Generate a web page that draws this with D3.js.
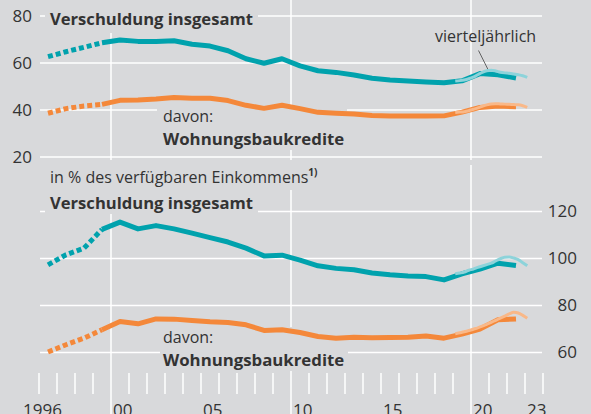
<!DOCTYPE html>
<html>
<head>
<meta charset="utf-8">
<script src="https://cdn.jsdelivr.net/npm/d3@7"></script>
<style>
  body { margin: 0; background: #d8d9db; }
  svg text { font-family: "Open Sans", "DejaVu Sans", sans-serif; fill: #333; }
</style>
</head>
<body>
<script>
// annual values, plotted at mid-year
var years = d3.range(1996, 2023);
var gdpTotal = [62.7, 64.8, 66.7, 68.6, 69.8, 69.2, 69.2, 69.5, 68.0, 67.2, 65.2, 61.8, 59.9, 61.8, 58.8,
                56.7, 56.0, 54.9, 53.5, 52.8, 52.3, 51.9, 51.6, 52.4, 55.5, 55.0, 53.6];
var gdpHousing = [38.6, 40.6, 41.7, 42.4, 44.1, 44.3, 44.7, 45.3, 45.0, 45.0, 44.0, 42.0, 40.7, 42.0, 40.6,
                  39.0, 38.6, 38.3, 37.7, 37.4, 37.4, 37.4, 37.5, 39.1, 41.1, 41.7, 41.4];
var incTotal = [97.3, 101.6, 104.4, 112.4, 115.5, 112.6, 114.0, 112.6, 110.8, 108.9, 107.0, 104.4, 101.1, 101.4, 99.3,
                96.9, 95.8, 95.2, 93.8, 93.1, 92.6, 92.3, 90.9, 93.5, 95.5, 98.0, 97.0];
var incHousing = [60.2, 63.3, 66.1, 69.7, 73.2, 72.2, 74.3, 74.2, 73.6, 73.1, 72.8, 71.8, 69.4, 69.7, 68.5,
                  66.8, 66.1, 66.5, 66.3, 66.4, 66.5, 67.0, 66.1, 67.8, 70.0, 73.9, 74.3];

// quarterly values 2019 Q1 - 2023 Q1
var quarters = ['2019Q1','2019Q2','2019Q3','2019Q4','2020Q1','2020Q2','2020Q3','2020Q4',
                '2021Q1','2021Q2','2021Q3','2021Q4','2022Q1','2022Q2','2022Q3','2022Q4','2023Q1'];
var gdpTotalQ = [52.3, 52.5, 52.8, 53.3, 54.0, 55.0, 56.0, 56.7, 56.9, 56.6, 56.1, 55.8, 55.6, 55.3, 55.0, 54.6, 53.9];
var gdpHousingQ = [38.9, 39.1, 39.3, 39.7, 40.3, 40.9, 41.6, 42.2, 42.6, 42.7, 42.6, 42.5, 42.4, 42.3, 42.2, 41.8, 41.1];
var incTotalQ = [93.5, 93.8, 94.2, 95.0, 95.5, 96.2, 96.8, 97.4, 98.0, 99.0, 99.9, 100.5, 100.6, 100.2, 99.5, 98.2, 96.9];
var incHousingQ = [68.0, 68.4, 68.8, 69.3, 69.9, 70.5, 71.2, 72.0, 72.8, 73.7, 74.6, 75.5, 76.4, 77.1, 76.8, 75.8, 74.6];

var topTicks = [20, 40, 60, 80];
var bottomTicks = [60, 80, 100, 120];
var yearLabels = [1996, 2000, 2005, 2010, 2015, 2020, 2023];

var W = 591, H = 414;
var bg = '#d8d9db';
var teal = '#00a2ad', tealLight = '#8dd3da';
var orange = '#f4883a', orangeLight = '#f9b888';

var svg = d3.select('body').append('svg')
  .attr('width', W)
  .attr('height', H);

svg.append('rect').attr('width', W).attr('height', H).attr('fill', bg);

var x = d3.scaleLinear().domain([1996, 2024]).range([39, 543]);
var yTop = d3.scaleLinear().domain([20, 80]).range([157, 16]);
var yBot = d3.scaleLinear().domain([60, 120]).range([352.5, 211.5]);

function qx(q) {
  return +q.slice(0, 4) + (+q.slice(5) - 0.5) / 4;
}

// horizontal grid
svg.selectAll('.gt').data(topTicks).enter().append('line')
  .attr('x1', 40).attr('x2', 542)
  .attr('y1', function(d){ return yTop(d); })
  .attr('y2', function(d){ return yTop(d); })
  .attr('stroke', '#fff').attr('stroke-width', 1.5);
svg.selectAll('.gb').data(bottomTicks).enter().append('line')
  .attr('x1', 40).attr('x2', 542)
  .attr('y1', function(d){ return yBot(d); })
  .attr('y2', function(d){ return yBot(d); })
  .attr('stroke', '#fff').attr('stroke-width', 1.5);

// vertical grid at decades
[2000, 2010, 2020].forEach(function(yr){
  svg.append('line').attr('x1', x(yr)).attr('x2', x(yr)).attr('y1', 0).attr('y2', 160)
    .attr('stroke', '#fff').attr('stroke-width', 1.5);
  svg.append('line').attr('x1', x(yr)).attr('x2', x(yr)).attr('y1', 165).attr('y2', H)
    .attr('stroke', '#fff').attr('stroke-width', 1.5);
});

// year ticks
svg.selectAll('.yt').data(d3.range(1996, 2025).filter(function(d){ return d % 10 !== 0; }))
  .enter().append('line')
  .attr('x1', function(d){ return x(d); })
  .attr('x2', function(d){ return x(d); })
  .attr('y1', 373).attr('y2', 394)
  .attr('stroke', '#fff').attr('stroke-width', 1.5);

// year labels sit at the bottom edge and are cut by it, as in the original
svg.selectAll('.yl').data(yearLabels).enter().append('text')
  .attr('x', function(d){ return d === 1996 ? x(d) - 16 : x(d) + 2; })
  .attr('y', 416)
  .style('font-size', '17px')
  .text(function(d){ return d === 1996 ? '1996' : String(d).slice(2); });

// label backgrounds (mask the grid)
var boxes = [[45, -20, 258, 33], [157, 106, 347, 150], [45, 160, 333, 190], [45, 188, 258, 214], [160, 327, 348, 371]];
boxes.forEach(function(b){
  svg.append('rect').attr('x', b[0]).attr('y', b[1]).attr('width', b[2] - b[0]).attr('height', b[3] - b[1])
    .attr('fill', bg);
});

// axis labels
svg.selectAll('.tl').data(topTicks).enter().append('text')
  .attr('x', 32).attr('y', function(d){ return yTop(d); })
  .attr('dy', '0.35em').attr('text-anchor', 'end')
  .style('font-size', '17px')
  .text(function(d){ return d; });
svg.selectAll('.bl').data(bottomTicks).enter().append('text')
  .attr('x', 577).attr('y', function(d){ return yBot(d); })
  .attr('dy', '0.35em').attr('text-anchor', 'end')
  .style('font-size', '17px')
  .text(function(d){ return d; });

function label(txt, px, py, bold, size) {
  return svg.append('text').attr('x', px).attr('y', py)
    .style('font-size', (size || 16) + 'px')
    .style('font-weight', bold ? 'bold' : 'normal')
    .text(txt);
}
label('in % des BIP', 50, -1.5);
label('Verschuldung insgesamt', 50, 25, true, 16.6);
label('davon:', 163, 121.5);
label('Wohnungsbaukredite', 163, 145, true, 16.8);
label('vierteljährlich', 435, 42);
var hdr = label('in % des verfügbaren Einkommens', 50, 183);
hdr.append('tspan').attr('dy', -7).style('font-size', '10px').style('font-weight', 'bold').text('1)');
label('Verschuldung insgesamt', 50, 209, true, 16.6);
label('davon:', 163, 342.5);
label('Wohnungsbaukredite', 163, 366, true, 16.8);

svg.append('line').attr('x1', 478.5).attr('y1', 50.5).attr('x2', 488.5).attr('y2', 70.5)
  .attr('stroke', '#444').attr('stroke-width', 0.8);

// series
function drawAnnual(vals, y, color) {
  var pts = years.map(function(yr, i){ return [x(yr + 0.5), y(vals[i])]; });
  var line = d3.line();
  svg.append('path').attr('d', line(pts.slice(0, 4)))
    .attr('fill', 'none').attr('stroke', color).attr('stroke-width', 5)
    .attr('stroke-dasharray', '5,3');
  svg.append('path').attr('d', line(pts.slice(3)))
    .attr('fill', 'none').attr('stroke', color).attr('stroke-width', 5)
    .attr('stroke-linejoin', 'round');
}
function drawQuarterly(vals, y, color) {
  var line = d3.line()
    .x(function(d, i){ return x(qx(quarters[i])); })
    .y(function(d){ return y(d); })
    .curve(d3.curveMonotoneX);
  svg.append('path').attr('d', line(vals))
    .attr('fill', 'none').attr('stroke', color).attr('stroke-width', 3)
    .attr('stroke-linejoin', 'round');
}

drawAnnual(gdpTotal, yTop, teal);
drawAnnual(gdpHousing, yTop, orange);
drawAnnual(incTotal, yBot, teal);
drawAnnual(incHousing, yBot, orange);
drawQuarterly(gdpTotalQ, yTop, tealLight);
drawQuarterly(gdpHousingQ, yTop, orangeLight);
drawQuarterly(incTotalQ, yBot, tealLight);
drawQuarterly(incHousingQ, yBot, orangeLight);
</script>
</body>
</html>
